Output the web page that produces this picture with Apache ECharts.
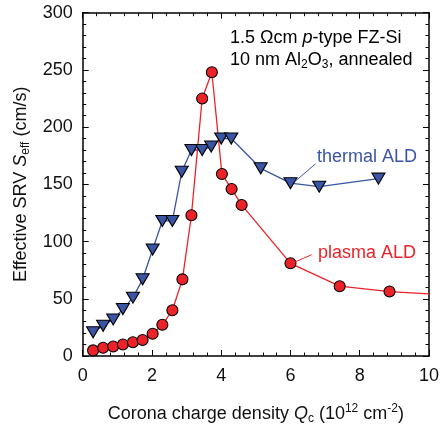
<!DOCTYPE html>
<html>
<head>
<meta charset="utf-8">
<script src="https://cdn.jsdelivr.net/npm/echarts@6/dist/echarts.min.js"></script>
<style>
  html, body { margin: 0; padding: 0; background: #fff; }
  #chart { width: 442px; height: 430px; }
</style>
</head>
<body>
<div id="chart"></div>
<script>
// values
const plasmaQc = [0.30, 0.59, 0.88, 1.16, 1.45, 1.73, 2.02, 2.30, 2.59, 2.88, 3.14, 3.45, 3.73, 4.02, 4.30, 4.59, 6.00, 7.42, 8.86, 10.0]
const plasmaS = [4.9, 7.2, 8.3, 10, 12, 14, 19.5, 27.3, 40, 67, 123, 225, 248, 159, 146, 132, 81, 61, 56.3, 54.3]
const thermalQc = [0.30, 0.59, 0.88, 1.16, 1.45, 1.73, 2.02, 2.30, 2.59, 2.86, 3.14, 3.45, 3.71, 4.00, 4.29, 5.14, 6.00, 6.83, 8.54]
const thermalS = [20.7, 26.4, 32, 41, 51, 67, 93, 118, 118, 161, 180, 180, 183, 190, 190, 164, 151, 148, 155]

const FONT = '"Liberation Sans", Arial, sans-serif'
const RED = '#ec2229'
const BLUE = '#3a55a5'

let chart = echarts.init(document.getElementById('chart'))

// last plasma value only continues the line to the frame edge
const plasmaData = plasmaQc.map((q, i) => {
    if (i === plasmaQc.length - 1) return { value: [q, plasmaS[i]], symbol: 'none' }
    return [q, plasmaS[i]]
})
const thermalData = thermalQc.map((q, i) => [q, thermalS[i]])

function frameAxis(extra) {
    return Object.assign({
        type: 'value',
        axisLine: { show: true, onZero: false, lineStyle: { color: '#000', width: 1.5 } },
        axisTick: { show: true, inside: true, length: 6 },
        minorTick: { show: true, splitNumber: 5, length: 3.5 },
        splitLine: { show: false },
    }, extra)
}

const sub = { fontSize: 12, fontFamily: FONT, color: '#111', verticalAlign: 'bottom', lineHeight: 12 }
const sup = { fontSize: 12, fontFamily: FONT, color: '#111', verticalAlign: 'top', lineHeight: 12 }
const main = { fontSize: 18, fontFamily: FONT, color: '#111', lineHeight: 22 }
const ital = { fontSize: 18, fontFamily: FONT, color: '#111', lineHeight: 22, fontStyle: 'italic' }

let option = {
    animation: false,
    grid: { // plot frame
        left: 82.7,
        right: 9.5,
        top: 12.7,
        bottom: 69.3,
    },
    xAxis: [
        frameAxis({
            min: 0,
            max: 10,
            interval: 2,
            position: 'bottom',
            axisLabel: { margin: 11, fontSize: 18, fontFamily: FONT, color: '#111' },
            name: '{m|Corona charge density }{i|Q}{s|c}{m| (10}{u|12}{m| cm}{u|-2}{m|)}',
            nameLocation: 'middle',
            nameGap: 47,
            nameTextStyle: { rich: { m: main, i: ital, s: sub, u: sup } },
        }),
        frameAxis({
            min: 0,
            max: 10,
            interval: 2,
            position: 'top',
            axisLabel: { show: false },
        }),
    ],
    yAxis: [
        frameAxis({
            min: 0,
            max: 300,
            interval: 50,
            position: 'left',
            axisLabel: { margin: 10, fontSize: 18, fontFamily: FONT, color: '#111' },
            name: '{m|Effective SRV }{i|S}{s|eff}{m| (cm/s)}',
            nameLocation: 'middle',
            nameGap: 50,
            nameRotate: 90,
            nameTextStyle: { rich: { m: main, i: ital, s: sub } },
        }),
        frameAxis({
            min: 0,
            max: 300,
            interval: 50,
            position: 'right',
            axisLabel: { show: false },
        }),
    ],
    graphic: [
        {
            type: 'text',
            left: 230,
            top: 29,
            style: {
                text: '{m|1.5 Ωcm }{i|p}{m|-type FZ-Si}\n{m|10 nm Al}{s|2}{m|O}{s|3}{m|, annealed}',
                rich: { m: main, i: ital, s: sub },
            },
        },
        {
            type: 'text',
            left: 317,
            top: 148,
            style: { text: 'thermal ALD', fontSize: 18, fontFamily: FONT, fill: BLUE },
        },
        {
            type: 'text',
            left: 318,
            top: 244,
            style: { text: 'plasma ALD', fontSize: 18, fontFamily: FONT, fill: RED },
        },
    ],
    series: [
        {
            name: 'thermal ALD',
            type: 'line',
            data: thermalData,
            symbol: 'triangle',
            symbolRotate: 180,
            symbolSize: [13, 11],
            lineStyle: { color: BLUE, width: 1.3 },
            itemStyle: { color: BLUE, borderColor: '#000', borderWidth: 1.1 },
            markLine: {
                silent: true,
                symbol: 'none',
                label: { show: false },
                lineStyle: { color: BLUE, width: 1, type: 'solid' },
                data: [[{ coord: [6.72, 167.8] }, { coord: [6.12, 152.3] }]],
            },
        },
        {
            name: 'plasma ALD',
            type: 'line',
            data: plasmaData,
            symbol: 'circle',
            symbolSize: 11,
            clip: true,
            lineStyle: { color: RED, width: 1.3 },
            itemStyle: { color: RED, borderColor: '#000', borderWidth: 1.1 },
            markLine: {
                silent: true,
                symbol: 'none',
                label: { show: false },
                lineStyle: { color: RED, width: 1, type: 'solid' },
                data: [[{ coord: [6.61, 88.5] }, { coord: [6.09, 81.6] }]],
            },
        },
    ],
}

chart.setOption(option)
window.addEventListener('resize', () => {
    chart.resize()
})
</script>
</body>
</html>
